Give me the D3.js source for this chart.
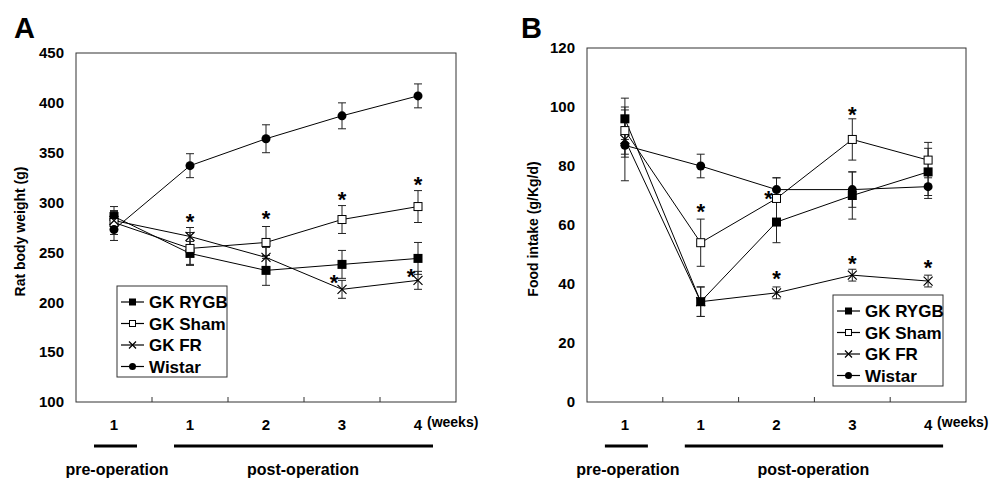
<!DOCTYPE html>
<html>
<head>
<meta charset="utf-8">
<script src="https://cdn.jsdelivr.net/npm/d3@7"></script>
<style>
  body { margin: 0; background: #fff; }
  text { font-family: "Liberation Sans", Arial, sans-serif; font-weight: bold; fill: #000; }
</style>
</head>
<body>
<svg id="chart" width="1003" height="478"></svg>
<script>
// categories (x axis)
var weeks = ['pre1', 'w1', 'w2', 'w3', 'w4'];
var weekLabels = ['1', '1', '2', '3', '4'];
var seriesNames = ['GK RYGB', 'GK Sham', 'GK FR', 'Wistar'];

// panel A: body weight (g)
var weightRYGB = [286, 249, 232, 238, 244];
var weightRYGBErr = [10, 12, 15, 14, 16];
var weightSham = [280, 254, 260, 283, 296];
var weightShamErr = [12, 16, 16, 14, 16];
var weightFR = [282, 266, 245, 213, 222];
var weightFRErr = [9, 9, 10, 9, 9];
var weightWistar = [273, 337, 364, 387, 407];
var weightWistarErr = [11, 12, 14, 13, 12];
var weightTicks = [100, 150, 200, 250, 300, 350, 400, 450];
// stars: [week index, value, dx]
var weightStars = [[1, 283, 0], [2, 286, 0], [3, 305, 0], [4, 320, 0], [3, 221, -8], [4, 227, -7]];

// panel B: food intake (g/Kg/d)
var foodRYGB = [96, 34, 61, 70, 78];
var foodRYGBErr = [7, 5, 7, 8, 8];
var foodSham = [92, 54, 69, 89, 82];
var foodShamErr = [8, 8, 7, 7, 6];
var foodFR = [89, 34, 37, 43, 41];
var foodFRErr = [6, 5, 2, 2, 2];
var foodWistar = [87, 80, 72, 72, 73];
var foodWistarErr = [12, 4, 4, 6, 4];
var foodTicks = [0, 20, 40, 60, 80, 100, 120];
var foodStars = [[1, 65, 0], [2, 69.5, -8], [3, 98, 0], [2, 42.5, 0], [3, 47.5, 0], [4, 46, 0]];

var symbols = ['filledSquare', 'openSquare', 'cross', 'filledCircle'];

var svg = d3.select('#chart');

function drawMarker(g, type, x, y, s) {
  if (type === 'filledSquare') {
    g.append('rect').attr('x', x - s).attr('y', y - s).attr('width', 2 * s).attr('height', 2 * s)
      .attr('fill', '#000');
  } else if (type === 'openSquare') {
    g.append('rect').attr('x', x - s + 0.5).attr('y', y - s + 0.5).attr('width', 2 * s - 1).attr('height', 2 * s - 1)
      .attr('fill', '#fff').attr('stroke', '#000').attr('stroke-width', 1);
  } else if (type === 'cross') {
    g.append('path').attr('d', 'M' + (x - s) + ',' + (y - s) + 'L' + (x + s) + ',' + (y + s) +
      'M' + (x - s) + ',' + (y + s) + 'L' + (x + s) + ',' + (y - s))
      .attr('stroke', '#000').attr('stroke-width', 1.2).attr('fill', 'none');
  } else {
    g.append('circle').attr('cx', x).attr('cy', y).attr('r', s).attr('fill', '#000');
  }
}

function panel(cfg) {
  var g = svg.append('g');
  var x = d3.scaleBand().domain(weeks).range([cfg.left, cfg.right]);
  var y = d3.scaleLinear().domain(cfg.domain).range([cfg.bottom, cfg.top]);
  var cx = function (d) { return x(d) + x.bandwidth() / 2; };

  // frame
  g.append('rect').attr('x', cfg.left).attr('y', cfg.top)
    .attr('width', cfg.right - cfg.left).attr('height', cfg.bottom - cfg.top)
    .attr('fill', 'none').attr('stroke', '#333').attr('stroke-width', 1);

  // y axis
  var yAxis = g.append('g').attr('transform', 'translate(' + cfg.left + ',0)')
    .call(d3.axisLeft(y).tickValues(cfg.ticks).tickSize(0).tickPadding(12));
  yAxis.select('.domain').remove();
  yAxis.selectAll('text').style('font-size', '15px').style('font-family', '"Liberation Sans", Arial, sans-serif');

  // x axis: tick marks between bands
  g.selectAll('.xtick').data(weeks.slice(1)).enter().append('line')
    .attr('x1', function (d) { return x(d); }).attr('x2', function (d) { return x(d); })
    .attr('y1', cfg.bottom).attr('y2', cfg.bottom - 5)
    .attr('stroke', '#333');
  g.selectAll('.xlab').data(weeks).enter().append('text')
    .attr('x', cx).attr('y', cfg.bottom + 28)
    .attr('text-anchor', 'middle').style('font-size', '15px')
    .text(function (d, i) { return weekLabels[i]; });
  g.append('text').attr('x', cx('w4') + 9).attr('y', cfg.bottom + 25)
    .style('font-size', '14px').text('(weeks)');

  // operation bars
  var lineY = cfg.bottom + 44;
  g.append('line').attr('x1', cx('pre1') - 20).attr('x2', cx('pre1') + 23)
    .attr('y1', lineY).attr('y2', lineY).attr('stroke', '#000').attr('stroke-width', 3);
  g.append('line').attr('x1', x('w1') + 22).attr('x2', cx('w4') + 15)
    .attr('y1', lineY).attr('y2', lineY).attr('stroke', '#000').attr('stroke-width', 3);
  g.append('text').attr('x', cx('pre1') + 3).attr('y', cfg.bottom + 73)
    .attr('text-anchor', 'middle').style('font-size', '16px').text('pre-operation');
  g.append('text').attr('x', (cx('w1') + cx('w4')) / 2 - 1).attr('y', cfg.bottom + 73)
    .attr('text-anchor', 'middle').style('font-size', '16px').text('post-operation');

  // y title
  g.append('text')
    .attr('transform', 'translate(' + cfg.titleX + ',' + ((cfg.top + cfg.bottom) / 2 + 4) + ') rotate(-90)')
    .attr('text-anchor', 'middle').style('font-size', '14px').text(cfg.title);

  // panel letter
  g.append('text').attr('x', cfg.letterX).attr('y', 38).style('font-size', '29px')
    .style('font-family', 'Arial, "Liberation Sans", sans-serif').text(cfg.letter);

  var line = d3.line().x(function (d, i) { return cx(weeks[i]); }).y(function (d) { return y(d); });

  // lines
  cfg.series.forEach(function (s) {
    g.append('path').datum(s.values).attr('d', line)
      .attr('fill', 'none').attr('stroke', '#000').attr('stroke-width', 1);
  });
  // error bars
  cfg.series.forEach(function (s) {
    s.values.forEach(function (v, i) {
      var px = cx(weeks[i]);
      var e = s.err[i];
      g.append('line').attr('x1', px).attr('x2', px).attr('y1', y(v - e)).attr('y2', y(v + e))
        .attr('stroke', '#222').attr('stroke-width', 1);
      [v - e, v + e].forEach(function (c) {
        g.append('line').attr('x1', px - 4).attr('x2', px + 4).attr('y1', y(c)).attr('y2', y(c))
          .attr('stroke', '#222').attr('stroke-width', 1);
      });
    });
  });
  // markers
  cfg.series.forEach(function (s, k) {
    s.values.forEach(function (v, i) {
      drawMarker(g, symbols[k], cx(weeks[i]), y(v), 4.5);
    });
  });
  // stars
  cfg.stars.forEach(function (st) {
    g.append('text').attr('x', cx(weeks[st[0]]) + st[2]).attr('y', y(st[1]) + 9)
      .attr('text-anchor', 'middle').style('font-size', '22px').text('*');
  });

  // legend
  var lg = g.append('g').attr('transform', 'translate(' + cfg.legendX + ',' + cfg.legendY + ')');
  lg.append('rect').attr('x', 0).attr('y', 0).attr('width', 110).attr('height', 91)
    .attr('fill', '#fff').attr('stroke', '#333').attr('stroke-width', 1);
  seriesNames.forEach(function (name, k) {
    var ry = 16 + k * 21.5;
    lg.append('line').attr('x1', 4).attr('x2', 27).attr('y1', ry).attr('y2', ry)
      .attr('stroke', '#000').attr('stroke-width', 1.2);
    drawMarker(lg, symbols[k], 15.5, ry, 3.5);
    lg.append('text').attr('x', 32).attr('y', ry + 6).style('font-size', '17px').text(name);
  });
}

panel({
  letter: 'A', letterX: 14,
  left: 76, right: 456, top: 53, bottom: 402,
  domain: [100, 450], ticks: weightTicks,
  title: 'Rat body weight (g)', titleX: 25,
  legendX: 117, legendY: 286,
  stars: weightStars,
  series: [
    { values: weightRYGB, err: weightRYGBErr },
    { values: weightSham, err: weightShamErr },
    { values: weightFR, err: weightFRErr },
    { values: weightWistar, err: weightWistarErr }
  ]
});

panel({
  letter: 'B', letterX: 521,
  left: 587, right: 966, top: 48, bottom: 402,
  domain: [0, 120], ticks: foodTicks,
  title: 'Food intake (g/Kg/d)', titleX: 538,
  legendX: 833, legendY: 295,
  stars: foodStars,
  series: [
    { values: foodRYGB, err: foodRYGBErr },
    { values: foodSham, err: foodShamErr },
    { values: foodFR, err: foodFRErr },
    { values: foodWistar, err: foodWistarErr }
  ]
});
</script>
</body>
</html>
